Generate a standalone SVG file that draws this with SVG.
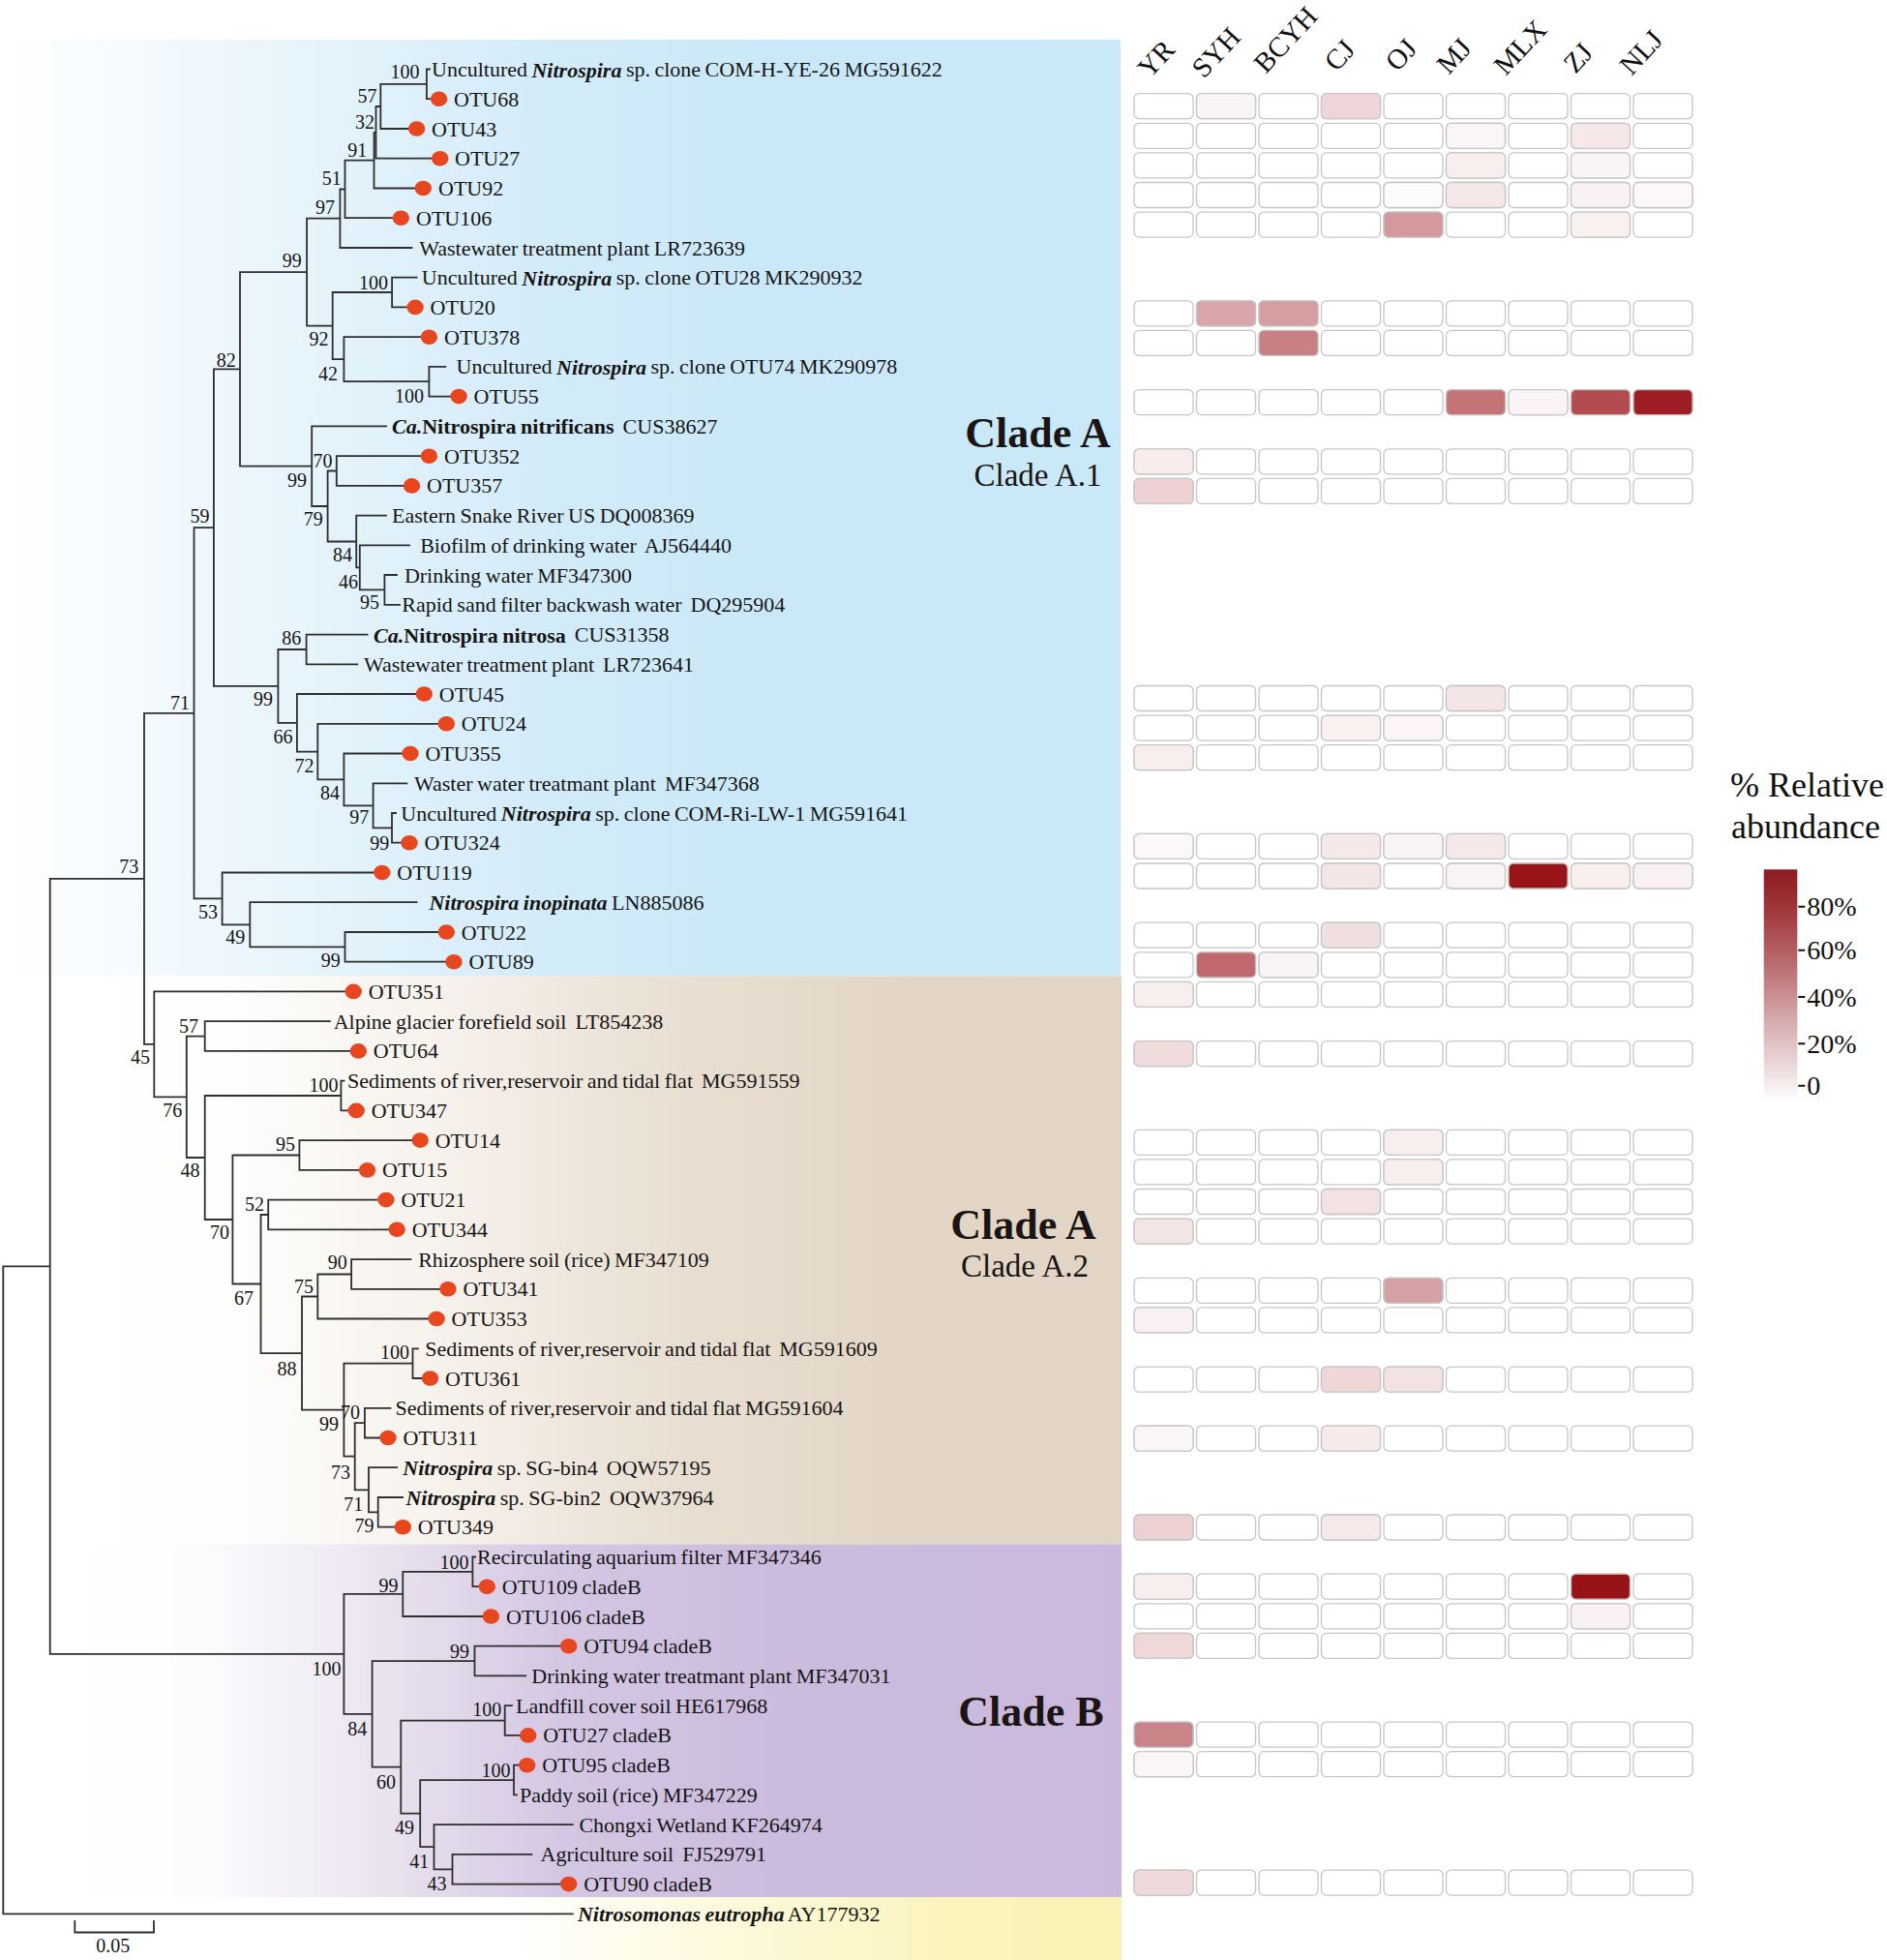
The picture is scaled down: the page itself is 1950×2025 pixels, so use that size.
<svg xmlns="http://www.w3.org/2000/svg" xmlns:xlink="http://www.w3.org/1999/xlink" width="1950" height="2025" viewBox="0 0 1950 2025">
<style>
.br{fill:none;stroke:#2e2e2e;stroke-width:1.8;stroke-linecap:square}
.lf{font-family:"Liberation Serif",serif;font-size:22px;word-spacing:-1px;fill:#151515;dominant-baseline:central}
.bs{font-family:"Liberation Serif",serif;font-size:20px;fill:#151515;text-anchor:middle;dominant-baseline:central}
.bi{font-weight:bold;font-style:italic}
.b{font-weight:bold}
.dot{fill:#e8461f}
.cell{stroke:#c6c6c6;stroke-width:1.3}
.hd{font-family:"Liberation Serif",serif;font-size:29px;fill:#111}
.cl{font-family:"Liberation Serif",serif;fill:#1a1414;text-anchor:middle}
.lg{font-family:"Liberation Serif",serif;fill:#111}
</style>
<defs>
<linearGradient id="gBlue" x1="0" y1="0" x2="1" y2="0">
<stop offset="0" stop-color="#ffffff"/><stop offset="0.1" stop-color="#f6fbfe"/><stop offset="0.3" stop-color="#e4f3fb"/><stop offset="0.5" stop-color="#d2ebf9"/><stop offset="0.7" stop-color="#cae8f8"/><stop offset="1" stop-color="#c9e8f8"/>
</linearGradient>
<linearGradient id="gTan" x1="0" y1="0" x2="1" y2="0">
<stop offset="0" stop-color="#ffffff"/><stop offset="0.2" stop-color="#fefefd"/><stop offset="0.4" stop-color="#f6f1eb"/><stop offset="0.6" stop-color="#e9dfd2"/><stop offset="0.8" stop-color="#e3d6c6"/><stop offset="1" stop-color="#e2d5c5"/>
</linearGradient>
<linearGradient id="gPur" x1="0" y1="0" x2="1" y2="0">
<stop offset="0" stop-color="#ffffff"/><stop offset="0.15" stop-color="#fefefe"/><stop offset="0.28" stop-color="#f2eef5"/><stop offset="0.38" stop-color="#e4dcec"/><stop offset="0.5" stop-color="#d4c7e3"/><stop offset="0.7" stop-color="#cbbbdd"/><stop offset="1" stop-color="#cab9dc"/>
</linearGradient>
<linearGradient id="gYel" x1="0" y1="0" x2="1" y2="0">
<stop offset="0" stop-color="#ffffff"/><stop offset="0.45" stop-color="#ffffff"/><stop offset="0.68" stop-color="#fdf8d6"/><stop offset="0.85" stop-color="#fbf4bd"/><stop offset="1" stop-color="#faf2b4"/>
</linearGradient>
<linearGradient id="gLeg" x1="0" y1="0" x2="0" y2="1">
<stop offset="0" stop-color="#8e1c22"/><stop offset="0.15" stop-color="#9c3237"/><stop offset="0.4" stop-color="#b96a6e"/><stop offset="0.65" stop-color="#d6aaac"/><stop offset="0.85" stop-color="#ecdadb"/><stop offset="1" stop-color="#ffffff"/>
</linearGradient>
<g id="hrow">
<rect class="cell" x="1172" y="0" width="61" height="26" rx="5" fill="#fff"/>
<rect class="cell" x="1236.5" y="0" width="61" height="26" rx="5" fill="#fff"/>
<rect class="cell" x="1301" y="0" width="61" height="26" rx="5" fill="#fff"/>
<rect class="cell" x="1365.5" y="0" width="61" height="26" rx="5" fill="#fff"/>
<rect class="cell" x="1430" y="0" width="61" height="26" rx="5" fill="#fff"/>
<rect class="cell" x="1494.5" y="0" width="61" height="26" rx="5" fill="#fff"/>
<rect class="cell" x="1559" y="0" width="61" height="26" rx="5" fill="#fff"/>
<rect class="cell" x="1623.5" y="0" width="61" height="26" rx="5" fill="#fff"/>
<rect class="cell" x="1688" y="0" width="61" height="26" rx="5" fill="#fff"/>
</g>
</defs>
<rect width="1950" height="2025" fill="#fff"/>
<g id="panels">
<rect x="0" y="41" width="1158" height="967.5" fill="url(#gBlue)"/>
<rect x="0" y="1008.5" width="1159" height="587" fill="url(#gTan)"/>
<rect x="0" y="1595.5" width="1159" height="364.5" fill="url(#gPur)"/>
<rect x="0" y="1960" width="1159" height="65" fill="url(#gYel)"/>
</g>
<g id="connectors">
<path class="br" d="M440.9 71.5V102.2M440.9 71.5H444M440.9 102.2H445.6
M393.3 86.9V133M393.3 86.9H440.9M393.3 133H422
M388.5 110V163.7M388.5 110H393.3M388.5 163.7H446.5
M386.5 136.8V194.5M386.5 136.8H388.5M386.5 194.5H429
M356.5 165.7V225.2M356.5 165.7H386.5M356.5 225.2H406
M351.4 195.5V256M351.4 195.5H356.5M351.4 256H425.5
M405.1 286.7V317.4M405.1 286.7H430.6M405.1 317.4H421
M443.4 378.9V409.6M443.4 378.9H460.3M443.4 409.6H466
M355.4 348.2V394.2M355.4 348.2H435M355.4 394.2H443.4
M343.7 302V371.2M343.7 302H405.1M343.7 371.2H355.4
M317.1 225.7V336.6M317.1 225.7H351.4M317.1 336.6H343.7
M347.8 471.2V501.9M347.8 471.2H435M347.8 501.9H417
M397.4 594V624.8M397.4 594H410M397.4 624.8H413
M371.8 563.4V609.4M371.8 563.4H423M371.8 609.4H397.4
M368.2 532.6V586.4M368.2 532.6H399M368.2 586.4H371.8
M338.6 486.5V559.5M338.6 486.5H347.8M338.6 559.5H368.2
M322.2 440.4V523M322.2 440.4H399M322.2 523H338.6
M248 281.2V481.7M248 281.2H317.1M248 481.7H322.2
M316.6 655.6V686.3M316.6 655.6H379.5M316.6 686.3H369.3
M405 840V870.7M405 840H409M405 870.7H415
M385.6 809.3V855.4M385.6 809.3H420.4M385.6 855.4H405
M355.4 778.5V832.3M355.4 778.5H416M355.4 832.3H385.6
M328.3 747.8V805.4M328.3 747.8H453M328.3 805.4H355.4
M306.9 717V776.6M306.9 717H430M306.9 776.6H328.3
M287.4 671V746.8M287.4 671H316.6M287.4 746.8H306.9
M220.9 381.4V708.9M220.9 381.4H248M220.9 708.9H287.4
M356.5 963V993.7M356.5 963H453M356.5 993.7H461
M258.3 932.2V978.4M258.3 932.2H430.6M258.3 978.4H356.5
M229.6 901.5V955.3M229.6 901.5H386M229.6 955.3H258.3
M200.5 545.2V928.4M200.5 545.2H220.9M200.5 928.4H229.6
M211.7 1055.2V1085.9M211.7 1055.2H341M211.7 1085.9H362
M352.4 1116.7V1147.4M352.4 1116.7H355.5M352.4 1147.4H360
M309.4 1178.1V1208.9M309.4 1178.1H426M309.4 1208.9H371
M277.2 1239.6V1270.3M277.2 1239.6H391M277.2 1270.3H402
M363.1 1301.1V1331.8M363.1 1301.1H424.5M363.1 1331.8H455
M328.3 1316.5V1362.5M328.3 1316.5H363.1M328.3 1362.5H443
M426.5 1393.3V1424M426.5 1393.3H432M426.5 1424H436.5
M376.9 1454.8V1485.5M376.9 1454.8H403.5M376.9 1485.5H393
M390.7 1547V1577.7M390.7 1547H416M390.7 1577.7H408
M381 1516.2V1562.4M381 1516.2H410.2M381 1562.4H390.7
M366.7 1470.2V1539.3M366.7 1470.2H376.9M366.7 1539.3H381
M355.4 1408.7V1504.7M355.4 1408.7H426.5M355.4 1504.7H366.7
M312 1339.5V1456.7M312 1339.5H328.3M312 1456.7H355.4
M269.5 1255V1398.1M269.5 1255H277.2M269.5 1398.1H312
M240.4 1193.5V1326.5M240.4 1193.5H309.4M240.4 1326.5H269.5
M211.7 1132V1260M211.7 1132H352.4M211.7 1260H240.4
M192.8 1070.6V1196M192.8 1070.6H211.7M192.8 1196H211.7
M159.3 1024.4V1133.3M159.3 1024.4H357M159.3 1133.3H192.8
M149 736.8V1078.9M149 736.8H200.5M149 1078.9H159.3
M488.4 1608.5V1639.2M488.4 1608.5H491M488.4 1639.2H495
M416.3 1623.9V1670M416.3 1623.9H488.4M416.3 1670H499
M490.5 1700.7V1731.4M490.5 1700.7H579M490.5 1731.4H543.2
M521.7 1762.2V1792.9M521.7 1762.2H529M521.7 1792.9H537
M531 1823.7V1854.4M531 1823.7H536M531 1854.4H534
M467.5 1915.9V1946.6M467.5 1915.9H549.3M467.5 1946.6H579
M448.5 1885.2V1931.3M448.5 1885.2H591.8M448.5 1931.3H467.5
M434.2 1839.1V1908.2M434.2 1839.1H531M434.2 1908.2H448.5
M414.3 1777.6V1873.6M414.3 1777.6H521.7M414.3 1873.6H434.2
M384.6 1716.1V1825.6M384.6 1716.1H490.5M384.6 1825.6H414.3
M355.4 1646.9V1770.8M355.4 1646.9H416.3M355.4 1770.8H384.6
M51.7 907.8V1708.9M51.7 907.8H149M51.7 1708.9H355.4
M3.3 1308.4V1977.4M3.3 1308.4H51.7M3.3 1977.4H591.8"/>
</g>
<g id="leaves">
<g id="n0"><text class="lf" x="446" y="71.5">Uncultured <tspan class="bi">Nitrospira</tspan> sp. clone COM-H-YE-26 MG591622</text></g>
<g id="n1"><ellipse class="dot" cx="453.6" cy="102.2" rx="8.7" ry="7.8"/><text class="lf" x="469" y="102.2">OTU68</text></g>
<g id="n2"><ellipse class="dot" cx="430.6" cy="133" rx="8.7" ry="7.8"/><text class="lf" x="446" y="133">OTU43</text></g>
<g id="n3"><ellipse class="dot" cx="454.7" cy="163.7" rx="8.7" ry="7.8"/><text class="lf" x="470" y="163.7">OTU27</text></g>
<g id="n4"><ellipse class="dot" cx="437.3" cy="194.5" rx="8.7" ry="7.8"/><text class="lf" x="453" y="194.5">OTU92</text></g>
<g id="n5"><ellipse class="dot" cx="414.3" cy="225.2" rx="8.7" ry="7.8"/><text class="lf" x="430" y="225.2">OTU106</text></g>
<g id="n6"><text class="lf" x="433.2" y="256">Wastewater treatment plant LR723639</text></g>
<g id="n7"><text class="lf" x="435.8" y="286.7">Uncultured <tspan class="bi">Nitrospira</tspan> sp. clone OTU28 MK290932</text></g>
<g id="n8"><ellipse class="dot" cx="429.1" cy="317.4" rx="8.7" ry="7.8"/><text class="lf" x="444.6" y="317.4">OTU20</text></g>
<g id="n9"><ellipse class="dot" cx="443.4" cy="348.2" rx="8.7" ry="7.8"/><text class="lf" x="459" y="348.2">OTU378</text></g>
<g id="n10"><text class="lf" x="471.6" y="378.9">Uncultured <tspan class="bi">Nitrospira</tspan> sp. clone OTU74 MK290978</text></g>
<g id="n11"><ellipse class="dot" cx="474.1" cy="409.6" rx="8.7" ry="7.8"/><text class="lf" x="489.6" y="409.6">OTU55</text></g>
<g id="n12"><text class="lf" x="405" y="440.4"><tspan class="bi">Ca.</tspan><tspan class="b">Nitrospira nitrificans</tspan>&#160; CUS38627</text></g>
<g id="n13"><ellipse class="dot" cx="443.4" cy="471.2" rx="8.7" ry="7.8"/><text class="lf" x="459" y="471.2">OTU352</text></g>
<g id="n14"><ellipse class="dot" cx="425.5" cy="501.9" rx="8.7" ry="7.8"/><text class="lf" x="441" y="501.9">OTU357</text></g>
<g id="n15"><text class="lf" x="405" y="532.6">Eastern Snake River US DQ008369</text></g>
<g id="n16"><text class="lf" x="434.2" y="563.4">Biofilm of drinking water&#160; AJ564440</text></g>
<g id="n17"><text class="lf" x="417.9" y="594">Drinking water MF347300</text></g>
<g id="n18"><text class="lf" x="415.3" y="624.8">Rapid sand filter backwash water&#160; DQ295904</text></g>
<g id="n19"><text class="lf" x="386.1" y="655.6"><tspan class="bi">Ca.</tspan><tspan class="b">Nitrospira nitrosa</tspan>&#160; CUS31358</text></g>
<g id="n20"><text class="lf" x="375.9" y="686.3">Wastewater treatment plant&#160; LR723641</text></g>
<g id="n21"><ellipse class="dot" cx="438.3" cy="717" rx="8.7" ry="7.8"/><text class="lf" x="453.8" y="717">OTU45</text></g>
<g id="n22"><ellipse class="dot" cx="461.3" cy="747.8" rx="8.7" ry="7.8"/><text class="lf" x="476.8" y="747.8">OTU24</text></g>
<g id="n23"><ellipse class="dot" cx="424" cy="778.5" rx="8.7" ry="7.8"/><text class="lf" x="439.5" y="778.5">OTU355</text></g>
<g id="n24"><text class="lf" x="428" y="809.3">Waster water treatmant plant&#160; MF347368</text></g>
<g id="n25"><text class="lf" x="414.3" y="840">Uncultured <tspan class="bi">Nitrospira</tspan> sp. clone COM-Ri-LW-1 MG591641</text></g>
<g id="n26"><ellipse class="dot" cx="423" cy="870.7" rx="8.7" ry="7.8"/><text class="lf" x="438.5" y="870.7">OTU324</text></g>
<g id="n27"><ellipse class="dot" cx="394.8" cy="901.5" rx="8.7" ry="7.8"/><text class="lf" x="410.3" y="901.5">OTU119</text></g>
<g id="n28"><text class="lf" x="443.4" y="932.2"><tspan class="bi">Nitrospira inopinata</tspan> LN885086</text></g>
<g id="n29"><ellipse class="dot" cx="461.3" cy="963" rx="8.7" ry="7.8"/><text class="lf" x="476.8" y="963">OTU22</text></g>
<g id="n30"><ellipse class="dot" cx="469" cy="993.7" rx="8.7" ry="7.8"/><text class="lf" x="484.5" y="993.7">OTU89</text></g>
<g id="n31"><ellipse class="dot" cx="365.2" cy="1024.4" rx="8.7" ry="7.8"/><text class="lf" x="380.7" y="1024.4">OTU351</text></g>
<g id="n32"><text class="lf" x="344.7" y="1055.2">Alpine glacier forefield soil&#160; LT854238</text></g>
<g id="n33"><ellipse class="dot" cx="370.3" cy="1085.9" rx="8.7" ry="7.8"/><text class="lf" x="385.8" y="1085.9">OTU64</text></g>
<g id="n34"><text class="lf" x="359" y="1116.7">Sediments of river,reservoir and tidal flat&#160; MG591559</text></g>
<g id="n35"><ellipse class="dot" cx="368.2" cy="1147.4" rx="8.7" ry="7.8"/><text class="lf" x="383.7" y="1147.4">OTU347</text></g>
<g id="n36"><ellipse class="dot" cx="434.2" cy="1178.1" rx="8.7" ry="7.8"/><text class="lf" x="449.7" y="1178.1">OTU14</text></g>
<g id="n37"><ellipse class="dot" cx="379.5" cy="1208.9" rx="8.7" ry="7.8"/><text class="lf" x="395" y="1208.9">OTU15</text></g>
<g id="n38"><ellipse class="dot" cx="398.9" cy="1239.6" rx="8.7" ry="7.8"/><text class="lf" x="414.4" y="1239.6">OTU21</text></g>
<g id="n39"><ellipse class="dot" cx="410.2" cy="1270.3" rx="8.7" ry="7.8"/><text class="lf" x="425.7" y="1270.3">OTU344</text></g>
<g id="n40"><text class="lf" x="432.2" y="1301.1">Rhizosphere soil (rice) MF347109</text></g>
<g id="n41"><ellipse class="dot" cx="462.9" cy="1331.8" rx="8.7" ry="7.8"/><text class="lf" x="478.4" y="1331.8">OTU341</text></g>
<g id="n42"><ellipse class="dot" cx="451.1" cy="1362.5" rx="8.7" ry="7.8"/><text class="lf" x="466.6" y="1362.5">OTU353</text></g>
<g id="n43"><text class="lf" x="439.3" y="1393.3">Sediments of river,reservoir and tidal flat&#160; MG591609</text></g>
<g id="n44"><ellipse class="dot" cx="444.5" cy="1424" rx="8.7" ry="7.8"/><text class="lf" x="460" y="1424">OTU361</text></g>
<g id="n45"><text class="lf" x="408.6" y="1454.8">Sediments of river,reservoir and tidal flat MG591604</text></g>
<g id="n46"><ellipse class="dot" cx="401" cy="1485.5" rx="8.7" ry="7.8"/><text class="lf" x="416.5" y="1485.5">OTU311</text></g>
<g id="n47"><text class="lf" x="416.3" y="1516.2"><tspan class="bi">Nitrospira</tspan> sp. SG-bin4&#160; OQW57195</text></g>
<g id="n48"><text class="lf" x="419.4" y="1547"><tspan class="bi">Nitrospira</tspan> sp. SG-bin2&#160; OQW37964</text></g>
<g id="n49"><ellipse class="dot" cx="416.3" cy="1577.7" rx="8.7" ry="7.8"/><text class="lf" x="431.8" y="1577.7">OTU349</text></g>
<g id="n50"><text class="lf" x="493" y="1608.5">Recirculating aquarium filter MF347346</text></g>
<g id="n51"><ellipse class="dot" cx="503.3" cy="1639.2" rx="8.7" ry="7.8"/><text class="lf" x="518.8" y="1639.2">OTU109 cladeB</text></g>
<g id="n52"><ellipse class="dot" cx="507.4" cy="1670" rx="8.7" ry="7.8"/><text class="lf" x="522.9" y="1670">OTU106 cladeB</text></g>
<g id="n53"><ellipse class="dot" cx="587.7" cy="1700.7" rx="8.7" ry="7.8"/><text class="lf" x="603.2" y="1700.7">OTU94 cladeB</text></g>
<g id="n54"><text class="lf" x="549.3" y="1731.4">Drinking water treatmant plant MF347031</text></g>
<g id="n55"><text class="lf" x="533" y="1762.2">Landfill cover soil HE617968</text></g>
<g id="n56"><ellipse class="dot" cx="545.7" cy="1792.9" rx="8.7" ry="7.8"/><text class="lf" x="561.2" y="1792.9">OTU27 cladeB</text></g>
<g id="n57"><ellipse class="dot" cx="544.7" cy="1823.7" rx="8.7" ry="7.8"/><text class="lf" x="560.2" y="1823.7">OTU95 cladeB</text></g>
<g id="n58"><text class="lf" x="537" y="1854.4">Paddy soil (rice) MF347229</text></g>
<g id="n59"><text class="lf" x="598.4" y="1885.2">Chongxi Wetland KF264974</text></g>
<g id="n60"><text class="lf" x="558.5" y="1915.9">Agriculture soil&#160; FJ529791</text></g>
<g id="n61"><ellipse class="dot" cx="587.7" cy="1946.6" rx="8.7" ry="7.8"/><text class="lf" x="603.2" y="1946.6">OTU90 cladeB</text></g>
<g id="n62"><text class="lf" x="596.9" y="1977.4"><tspan class="bi">Nitrosomonas eutropha</tspan> AY177932</text></g>
</g>
<g id="bootstrap">
<text class="bs" x="418.5" y="74.2">100</text><text class="bs" x="379.5" y="99">57</text><text class="bs" x="376.9" y="125.8">32</text><text class="bs" x="369.3" y="155.3">91</text><text class="bs" x="342.7" y="184">51</text><text class="bs" x="336" y="214">97</text><text class="bs" x="301.7" y="269">99</text><text class="bs" x="386.1" y="291.7">100</text><text class="bs" x="329.4" y="350">92</text><text class="bs" x="339" y="386">42</text><text class="bs" x="423" y="409">100</text><text class="bs" x="233.7" y="371.7">82</text>
<text class="bs" x="333.5" y="475.8">70</text><text class="bs" x="306.9" y="495.8">99</text><text class="bs" x="323.7" y="536">79</text><text class="bs" x="206.6" y="532.5">59</text><text class="bs" x="354" y="572.5">84</text><text class="bs" x="360" y="600.8">46</text><text class="bs" x="382" y="622">95</text><text class="bs" x="301.2" y="659">86</text><text class="bs" x="272" y="722">99</text><text class="bs" x="186" y="725.8">71</text><text class="bs" x="292.5" y="760.8">66</text><text class="bs" x="314.5" y="791">72</text><text class="bs" x="341.1" y="819">84</text><text class="bs" x="371.3" y="844">97</text><text class="bs" x="392.3" y="871">99</text>
<text class="bs" x="133.3" y="895">73</text><text class="bs" x="215" y="941.7">53</text><text class="bs" x="243.3" y="968">49</text><text class="bs" x="341.7" y="991.5">99</text><text class="bs" x="145" y="1092">45</text><text class="bs" x="195" y="1060">57</text><text class="bs" x="334.5" y="1121">100</text><text class="bs" x="178.2" y="1146.8">76</text><text class="bs" x="295" y="1182">95</text><text class="bs" x="196.4" y="1209">48</text><text class="bs" x="262.9" y="1244">52</text><text class="bs" x="227" y="1272.5">70</text>
<text class="bs" x="348.8" y="1304">90</text><text class="bs" x="314" y="1329">75</text><text class="bs" x="252.1" y="1340.8">67</text><text class="bs" x="408.1" y="1397">100</text><text class="bs" x="296.6" y="1414">88</text><text class="bs" x="362.1" y="1459">70</text><text class="bs" x="340.1" y="1470.8">99</text><text class="bs" x="351.9" y="1520.8">73</text><text class="bs" x="365.2" y="1554">71</text><text class="bs" x="376.4" y="1575.8">79</text>
<text class="bs" x="469.5" y="1614">100</text><text class="bs" x="401.5" y="1637.5">99</text><text class="bs" x="475.1" y="1706">99</text><text class="bs" x="337.5" y="1723.7">100</text><text class="bs" x="503.3" y="1765.8">100</text><text class="bs" x="369.3" y="1785.8">84</text><text class="bs" x="512.5" y="1828.8">100</text><text class="bs" x="398.9" y="1840.8">60</text><text class="bs" x="417.9" y="1887.5">49</text><text class="bs" x="433.2" y="1922.5">41</text><text class="bs" x="451.6" y="1945.8">43</text>
</g>
<g id="scalebar">
<path class="br" d="M77.3 1985V1996.5H159V1985"/>
<text class="bs" x="116.7" y="2010" font-size="23">0.05</text>
</g>
<g id="clades">
<text class="cl" x="1072.5" y="461.7" font-size="44" font-weight="bold">Clade A</text>
<text class="cl" x="1072.5" y="501.7" font-size="33">Clade A.1</text>
<text class="cl" x="1057.5" y="1280" font-size="44" font-weight="bold">Clade A</text>
<text class="cl" x="1059" y="1319" font-size="33">Clade A.2</text>
<text class="cl" x="1065.5" y="1783" font-size="44" font-weight="bold">Clade B</text>
</g>
<g id="heat-header">
<text class="hd" transform="translate(1188 82) rotate(-47)">YR</text>
<text class="hd" transform="translate(1244 82) rotate(-47)">SYH</text>
<text class="hd" transform="translate(1308 77) rotate(-47)">BCYH</text>
<text class="hd" transform="translate(1381 75) rotate(-47)">CJ</text>
<text class="hd" transform="translate(1444 75) rotate(-47)">OJ</text>
<text class="hd" transform="translate(1497 78) rotate(-47)">MJ</text>
<text class="hd" transform="translate(1556 79) rotate(-47)">MLX</text>
<text class="hd" transform="translate(1628 77) rotate(-47)">ZJ</text>
<text class="hd" transform="translate(1686 79) rotate(-47)">NLJ</text>
</g>
<g id="heatmap">
<use xlink:href="#hrow" y="96.7"/><use xlink:href="#hrow" y="127.3"/><use xlink:href="#hrow" y="157.9"/><use xlink:href="#hrow" y="188.5"/><use xlink:href="#hrow" y="219.1"/>
<use xlink:href="#hrow" y="310.8"/><use xlink:href="#hrow" y="341.4"/><use xlink:href="#hrow" y="402.6"/><use xlink:href="#hrow" y="463.8"/><use xlink:href="#hrow" y="494.4"/>
<use xlink:href="#hrow" y="708.5"/><use xlink:href="#hrow" y="739.1"/><use xlink:href="#hrow" y="769.7"/><use xlink:href="#hrow" y="861.4"/><use xlink:href="#hrow" y="892"/>
<use xlink:href="#hrow" y="953.2"/><use xlink:href="#hrow" y="983.8"/><use xlink:href="#hrow" y="1014.4"/><use xlink:href="#hrow" y="1075.6"/>
<use xlink:href="#hrow" y="1167.3"/><use xlink:href="#hrow" y="1197.9"/><use xlink:href="#hrow" y="1228.5"/><use xlink:href="#hrow" y="1259.1"/>
<use xlink:href="#hrow" y="1320.3"/><use xlink:href="#hrow" y="1350.9"/><use xlink:href="#hrow" y="1412.1"/><use xlink:href="#hrow" y="1473.2"/><use xlink:href="#hrow" y="1565"/>
<use xlink:href="#hrow" y="1626.2"/><use xlink:href="#hrow" y="1656.8"/><use xlink:href="#hrow" y="1687.4"/><use xlink:href="#hrow" y="1779.1"/><use xlink:href="#hrow" y="1809.7"/><use xlink:href="#hrow" y="1932.1"/>
<g class="cell">
<rect x="1236.5" y="96.7" width="61" height="26" rx="5" fill="#fbf4f4"/><rect x="1365.5" y="96.7" width="61" height="26" rx="5" fill="#efd5d7"/>
<rect x="1494.5" y="127.3" width="61" height="26" rx="5" fill="#fbf5f5"/><rect x="1623.5" y="127.3" width="61" height="26" rx="5" fill="#f6e7e8"/>
<rect x="1494.5" y="157.9" width="61" height="26" rx="5" fill="#f8eeee"/><rect x="1623.5" y="157.9" width="61" height="26" rx="5" fill="#fbf4f4"/>
<rect x="1430" y="188.5" width="61" height="26" rx="5" fill="#fdfafa"/><rect x="1494.5" y="188.5" width="61" height="26" rx="5" fill="#f6e8e9"/><rect x="1623.5" y="188.5" width="61" height="26" rx="5" fill="#faf2f2"/><rect x="1688" y="188.5" width="61" height="26" rx="5" fill="#fcf8f8"/>
<rect x="1430" y="219.1" width="61" height="26" rx="5" fill="#d4999d"/><rect x="1623.5" y="219.1" width="61" height="26" rx="5" fill="#f9f0f0"/>
<rect x="1236.5" y="310.8" width="61" height="26" rx="5" fill="#d9a6a9"/><rect x="1301" y="310.8" width="61" height="26" rx="5" fill="#d59fa2"/>
<rect x="1301" y="341.4" width="61" height="26" rx="5" fill="#c98085"/>
<rect x="1494.5" y="402.6" width="61" height="26" rx="5" fill="#c57377"/><rect x="1559" y="402.6" width="61" height="26" rx="5" fill="#fbf4f4"/><rect x="1623.5" y="402.6" width="61" height="26" rx="5" fill="#b24c51"/><rect x="1688" y="402.6" width="61" height="26" rx="5" fill="#9c1e24"/>
<rect x="1172" y="463.8" width="61" height="26" rx="5" fill="#f8eced"/>
<rect x="1172" y="494.4" width="61" height="26" rx="5" fill="#edd1d3"/>
<rect x="1494.5" y="708.5" width="61" height="26" rx="5" fill="#f4e5e6"/>
<rect x="1365.5" y="739.1" width="61" height="26" rx="5" fill="#f9f0f0"/><rect x="1430" y="739.1" width="61" height="26" rx="5" fill="#fbf5f5"/>
<rect x="1172" y="769.7" width="61" height="26" rx="5" fill="#f8eeee"/>
<rect x="1172" y="861.4" width="61" height="26" rx="5" fill="#fcf8f8"/><rect x="1365.5" y="861.4" width="61" height="26" rx="5" fill="#f5e8e9"/><rect x="1430" y="861.4" width="61" height="26" rx="5" fill="#faf3f3"/><rect x="1494.5" y="861.4" width="61" height="26" rx="5" fill="#f5e8e9"/>
<rect x="1365.5" y="892" width="61" height="26" rx="5" fill="#f4e6e7"/><rect x="1494.5" y="892" width="61" height="26" rx="5" fill="#faf3f3"/><rect x="1559" y="892" width="61" height="26" rx="5" fill="#981416"/><rect x="1623.5" y="892" width="61" height="26" rx="5" fill="#f8efef"/><rect x="1688" y="892" width="61" height="26" rx="5" fill="#f9f1f1"/>
<rect x="1365.5" y="953.2" width="61" height="26" rx="5" fill="#f1dfe0"/>
<rect x="1236.5" y="983.8" width="61" height="26" rx="5" fill="#c0686d"/><rect x="1301" y="983.8" width="61" height="26" rx="5" fill="#faf4f4"/>
<rect x="1172" y="1014.4" width="61" height="26" rx="5" fill="#f8eeee"/>
<rect x="1172" y="1075.6" width="61" height="26" rx="5" fill="#f1dcdd"/>
<rect x="1430" y="1167.3" width="61" height="26" rx="5" fill="#f8eeee"/>
<rect x="1430" y="1197.9" width="61" height="26" rx="5" fill="#f8eeee"/>
<rect x="1365.5" y="1228.5" width="61" height="26" rx="5" fill="#f3e2e3"/>
<rect x="1172" y="1259.1" width="61" height="26" rx="5" fill="#f4e5e5"/>
<rect x="1430" y="1320.3" width="61" height="26" rx="5" fill="#d6a1a4"/>
<rect x="1172" y="1350.9" width="61" height="26" rx="5" fill="#f9f1f1"/>
<rect x="1365.5" y="1412.1" width="61" height="26" rx="5" fill="#efd7d8"/><rect x="1430" y="1412.1" width="61" height="26" rx="5" fill="#f3e2e3"/>
<rect x="1172" y="1473.2" width="61" height="26" rx="5" fill="#fbf6f6"/><rect x="1365.5" y="1473.2" width="61" height="26" rx="5" fill="#f6eaea"/>
<rect x="1172" y="1565" width="61" height="26" rx="5" fill="#ecd0d2"/><rect x="1365.5" y="1565" width="61" height="26" rx="5" fill="#f6e9ea"/>
<rect x="1172" y="1626.2" width="61" height="26" rx="5" fill="#f8eeee"/><rect x="1623.5" y="1626.2" width="61" height="26" rx="5" fill="#961214"/>
<rect x="1623.5" y="1656.8" width="61" height="26" rx="5" fill="#f9f1f1"/>
<rect x="1172" y="1687.4" width="61" height="26" rx="5" fill="#f0d8d9"/>
<rect x="1172" y="1779.1" width="61" height="26" rx="5" fill="#c88489"/>
<rect x="1172" y="1809.7" width="61" height="26" rx="5" fill="#fbf6f6"/>
<rect x="1172" y="1932.1" width="61" height="26" rx="5" fill="#f0d9da"/>
</g>
</g>
<g id="legend">
<text class="lg" x="1867.5" y="823" font-size="36" text-anchor="middle">% Relative</text>
<text class="lg" x="1866" y="866" font-size="36" text-anchor="middle">abundance</text>
<rect x="1822.7" y="898.3" width="34.6" height="240" fill="url(#gLeg)"/>
<path d="M1858.3 936.7h7M1858.3 981.7h7M1858.3 1030h7M1858.3 1078.3h7M1858.3 1121.7h7" stroke="#111" stroke-width="2"/>
<text class="lg" x="1867.3" y="936.7" font-size="28" dominant-baseline="central">80%</text>
<text class="lg" x="1867.3" y="981.7" font-size="28" dominant-baseline="central">60%</text>
<text class="lg" x="1867.3" y="1030" font-size="28" dominant-baseline="central">40%</text>
<text class="lg" x="1867.3" y="1078.3" font-size="28" dominant-baseline="central">20%</text>
<text class="lg" x="1867.3" y="1121.7" font-size="28" dominant-baseline="central">0</text>
</g>
</svg>
